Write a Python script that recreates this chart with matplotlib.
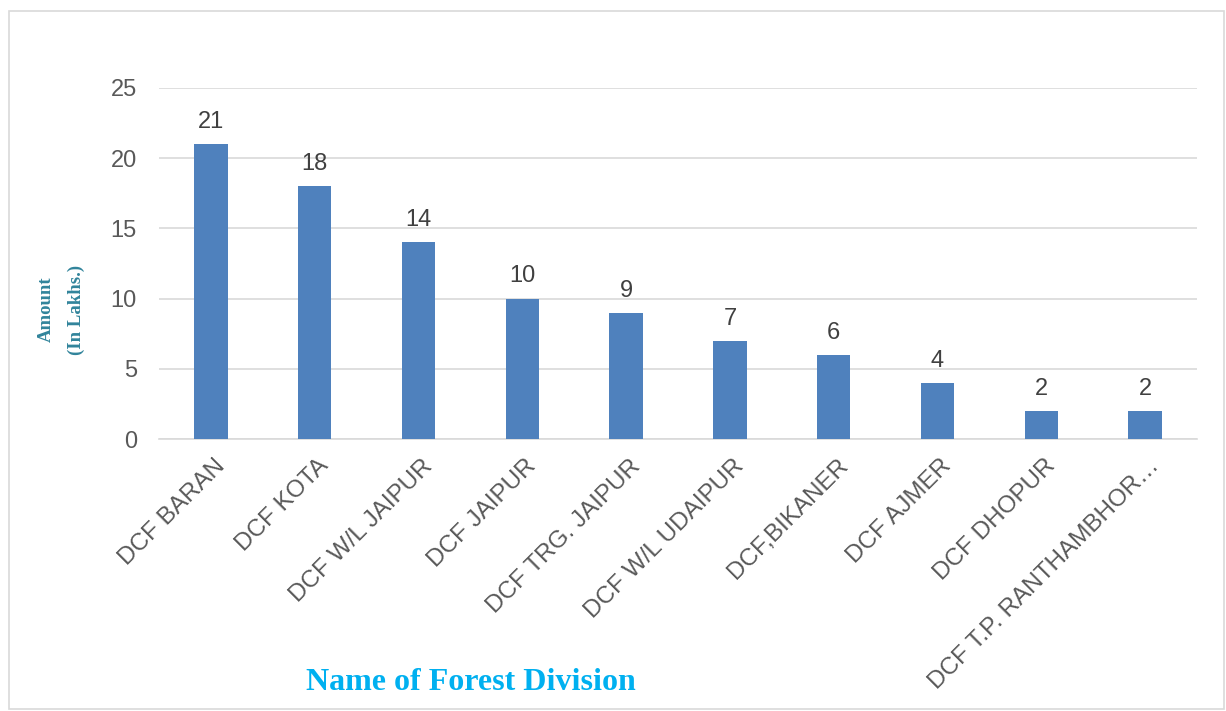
import matplotlib
matplotlib.use("Agg")
import matplotlib.pyplot as plt
from matplotlib.patches import Rectangle
from matplotlib.transforms import ScaledTranslation

categories = ["DCF BARAN", "DCF KOTA", "DCF W/L JAIPUR", "DCF JAIPUR", "DCF TRG. JAIPUR",
              "DCF W/L UDAIPUR", "DCF,BIKANER", "DCF AJMER", "DCF DHOPUR",
              "DCF T.P. RANTHAMBHOR…"]
values = [21, 18, 14, 10, 9, 7, 6, 4, 2, 2]
yticks = [0, 5, 10, 15, 20, 25]

W, H = 1226, 711
fig = plt.figure(figsize=(W / 100, H / 100), dpi=100)
fig.patch.set_facecolor("white")

# outer border
fig.patches.append(Rectangle((9 / W, 1 - 709 / H), (1224 - 9) / W, (709 - 11) / H,
                             transform=fig.transFigure, fill=False,
                             edgecolor="#D9D9D9", linewidth=1.2))

left, right = 159, 1197
top, bottom = 88, 439
ax = fig.add_axes([left / W, 1 - bottom / H, (right - left) / W, (bottom - top) / H])

x = list(range(len(categories)))
ax.bar(x, values, width=0.32, color="#4F81BD", zorder=3)
ax.set_xlim(-0.5, len(categories) - 0.5)
ax.set_ylim(0, 25)
ax.set_yticks(yticks)
ax.set_yticklabels([str(t) for t in yticks], fontsize=17, color="#595959",
                   family="Liberation Sans")
ax.yaxis.grid(True, color="#D9D9D9", linewidth=1.2, zorder=0)
ax.tick_params(axis="y", length=0, pad=16)
ax.tick_params(axis="x", length=0, pad=8)
ax.set_xticks(x)
ax.set_xticklabels(categories, rotation=45, ha="right", rotation_mode="anchor",
                   fontsize=17.5, color="#595959", family="Liberation Sans")
offset = ScaledTranslation(3 / 100, -5 / 100, fig.dpi_scale_trans)
for lbl in ax.get_xticklabels():
    lbl.set_transform(lbl.get_transform() + offset)
for s in ["top", "right", "left"]:
    ax.spines[s].set_visible(False)
ax.spines["bottom"].set_color("#D9D9D9")
ax.spines["bottom"].set_linewidth(1.2)

for xi, v in zip(x, values):
    ax.annotate(str(v), (xi, v), xytext=(0, 8), textcoords="offset points",
                ha="center", va="bottom", fontsize=17, color="#404040",
                family="Liberation Sans")

fig.text(471 / W, 1 - 683 / H, "Name of Forest Division", ha="center", va="center",
         fontsize=23, fontweight="bold", color="#00B0F0", family="Liberation Serif")
fig.text(46 / W, 1 - 309 / H, "Amount", ha="center", va="center",
         rotation=90, fontsize=13.5, fontweight="bold", color="#31849B",
         family="Liberation Serif")
fig.text(76 / W, 1 - 310 / H, "(In Lakhs.)", ha="center", va="center",
         rotation=90, fontsize=13.5, fontweight="bold", color="#31849B",
         family="Liberation Serif")

fig.savefig("out.png", dpi=100)
